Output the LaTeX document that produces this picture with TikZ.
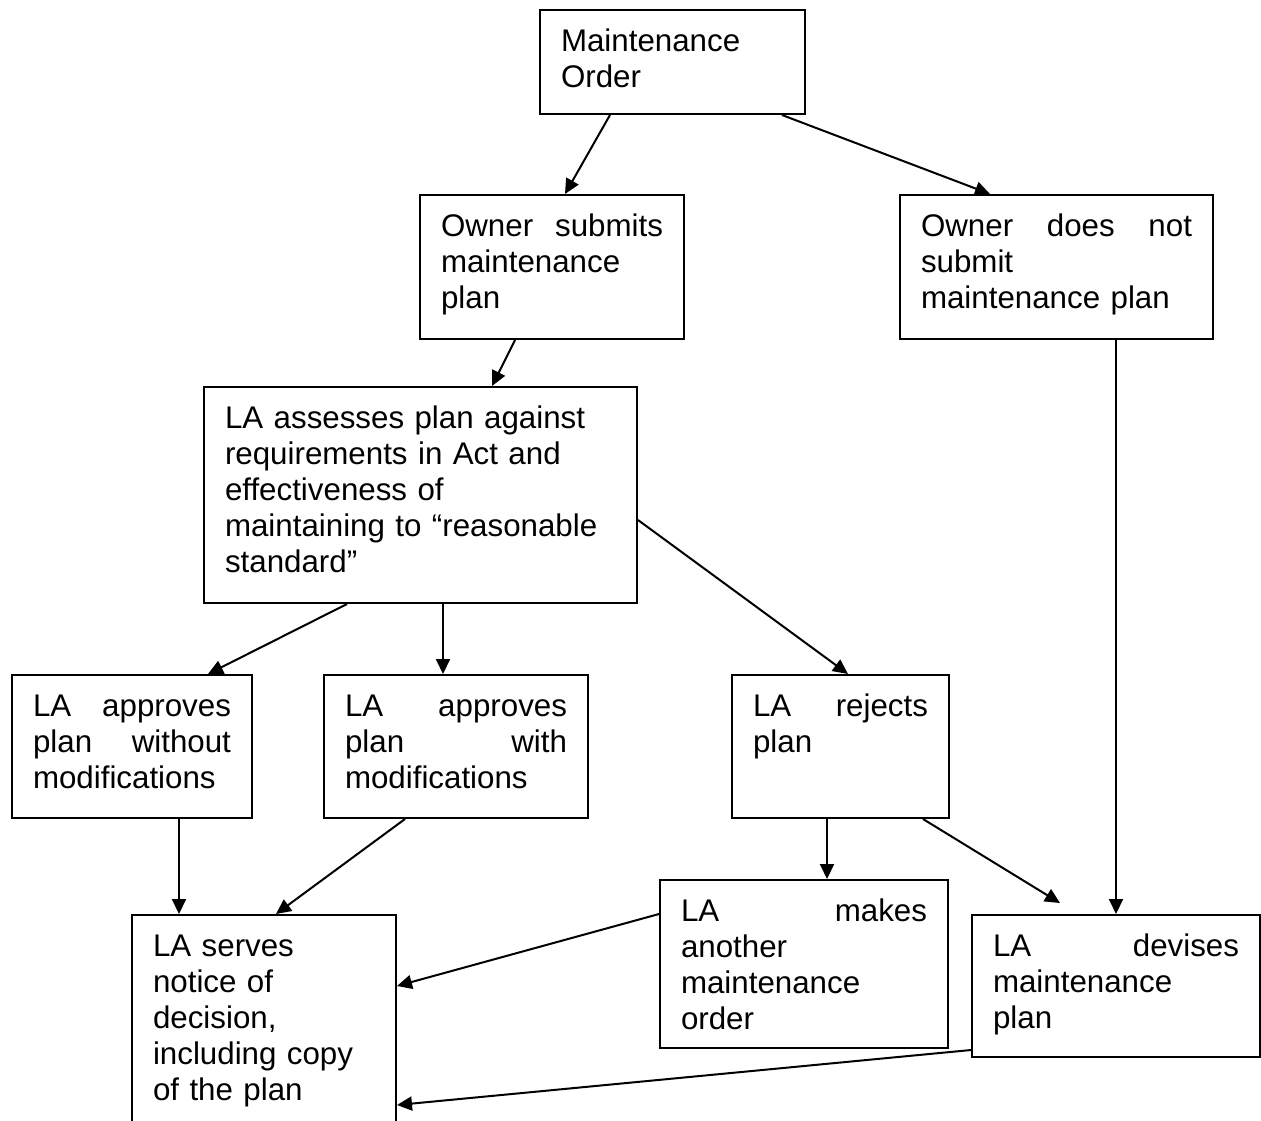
\documentclass[tikz,border=0pt]{standalone}
\usepackage{fontspec}
\setmainfont{Liberation Sans}
\usetikzlibrary{arrows.meta}

\begin{document}
\begin{tikzpicture}[x=1pt, y=-1pt,
  box/.style={draw, line width=2pt, anchor=north west, align=left,
    inner xsep=21pt, inner ysep=0pt, text height=41pt,
    font=\fontsize{31.3}{36}\selectfont},
  arr/.style={-{Triangle[length=15pt,width=14pt]}, line width=2pt}]

  % Page (1 unit = 1 px of the drawing)
  \clip (0,0) rectangle (1261,1120);

  % Boxes, top to bottom
  \node[box, text width=223pt, text depth=63pt] (mo) at (539,9) {Maintenance\\Order};

  \node[box, text width=222pt, text depth=103pt] (subm) at (419,194)
    {Owner\hfill submits\\maintenance\\plan};
  \node[box, text width=271pt, text depth=103pt] (nosubm) at (899,194)
    {Owner\hfill does\hfill not\\submit\\maintenance plan};

  \node[box, text width=391pt, text depth=175pt] (assess) at (203,386)
    {LA assesses plan against\\requirements in Act and\\effectiveness of\\maintaining to “reasonable\\standard”};

  \node[box, text width=198pt, text depth=102pt] (appr) at (11,674)
    {LA\hfill approves\\plan\hfill without\\modifications};
  \node[box, text width=222pt, text depth=102pt] (apprmod) at (323,674)
    {LA\hfill approves\\plan\hfill with\\modifications};
  \node[box, text width=175pt, text depth=102pt] (rej) at (731,674)
    {LA\hfill rejects\\plan};

  \node[box, text width=222pt, text depth=180pt] (serve) at (131,914)
    {LA serves\\notice of\\decision,\\including copy\\of the plan};
  \node[box, text width=246pt, text depth=127pt] (another) at (659,879)
    {LA\hfill makes\\another\\maintenance\\order};
  \node[box, text width=246pt, text depth=101pt] (devise) at (971,914)
    {LA\hfill devises\\maintenance\\plan};

  % free end of the arrow that stops short of devise
  \coordinate (devtop) at ([shift={(89pt,11pt)}]devise.north west);

  % Arrows
  \draw[arr] ([xshift=71pt]mo.south west) -- ([xshift=146pt]subm.north west);
  \draw[arr] ([xshift=243pt]mo.south west) -- ([xshift=91pt]nosubm.north west);
  \draw[arr] ([xshift=96pt]subm.south west) -- ([xshift=289pt]assess.north west);
  \draw[arr] ([xshift=217pt]nosubm.south west) -- ([xshift=145pt]devise.north west);

  \draw[arr] ([xshift=144pt]assess.south west) -- ([xshift=197pt]appr.north west);
  \draw[arr] ([xshift=240pt]assess.south west) -- ([xshift=120pt]apprmod.north west);
  \draw[arr] ([yshift=84pt]assess.south east) -- ([xshift=117pt]rej.north west);

  \draw[arr] ([xshift=168pt]appr.south west) -- ([xshift=48pt]serve.north west);
  \draw[arr] ([xshift=82pt]apprmod.south west) -- ([xshift=145pt]serve.north west);
  \draw[arr] ([xshift=96pt]rej.south west) -- ([xshift=168pt]another.north west);
  \draw[arr] ([xshift=192pt]rej.south west) -- (devtop);

  \draw[arr] ([yshift=-35pt]another.north west) -- ([yshift=-72pt]serve.north east);
  \draw[arr] ([yshift=8pt]devise.south west) -- ([yshift=-191pt]serve.north east);

\end{tikzpicture}
\end{document}
